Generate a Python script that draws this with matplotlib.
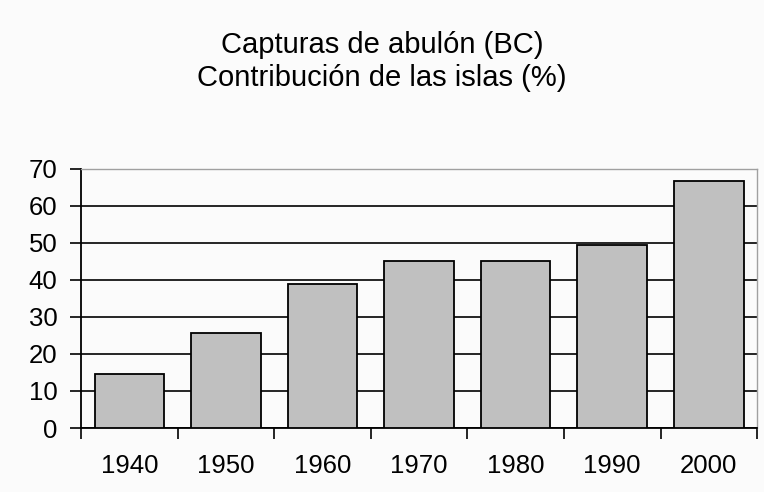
import numpy as np
import matplotlib
matplotlib.use("Agg")
import matplotlib.pyplot as plt

years = ["1940", "1950", "1960", "1970", "1980", "1990", "2000"]
contribution = [14.6, 25.6, 38.9, 45.0, 45.0, 49.5, 66.6]
y_ticks = [0, 10, 20, 30, 40, 50, 60, 70]

plt.rcParams["font.family"] = ["Liberation Sans", "DejaVu Sans"]

fig = plt.figure(figsize=(7.64, 4.92), dpi=100, facecolor="#fbfbfb")
ax = fig.add_axes([0.106, 0.130, 0.885, 0.527])
ax.set_facecolor("#fbfbfb")

x = np.arange(len(years))
ax.bar(x, contribution, width=0.72, color="#c0c0c0", edgecolor="black",
       linewidth=1.3, zorder=3)

ax.set_ylim(0, 70)
ax.set_xlim(-0.5, len(years) - 0.5)
ax.set_yticks(y_ticks)
ax.yaxis.grid(True, color="black", linewidth=1.2, zorder=0)
ax.set_axisbelow(True)

# labels under bars, ticks between categories
ax.set_xticks(x)
ax.set_xticklabels(years)
ax.set_xticks(np.arange(-0.5, len(years)), minor=True)
ax.tick_params(axis="x", which="major", length=0, pad=19, labelsize=18.5)
ax.tick_params(axis="x", which="minor", length=8, width=1.2, color="black")
ax.tick_params(axis="y", length=8, width=1.2, pad=9, labelsize=18.5)

for side in ["left", "bottom"]:
    ax.spines[side].set_linewidth(1.3)
    ax.spines[side].set_color("black")
for side in ["top", "right"]:
    ax.spines[side].set_linewidth(1.0)
    ax.spines[side].set_color("#a0a0a0")

fig.text(0.50, 0.908, "Capturas de abulón (BC)", ha="center", va="center", fontsize=21)
fig.text(0.50, 0.842, "Contribución de las islas (%)", ha="center", va="center", fontsize=21)

fig.savefig("out.png", dpi=100, facecolor=fig.get_facecolor())
